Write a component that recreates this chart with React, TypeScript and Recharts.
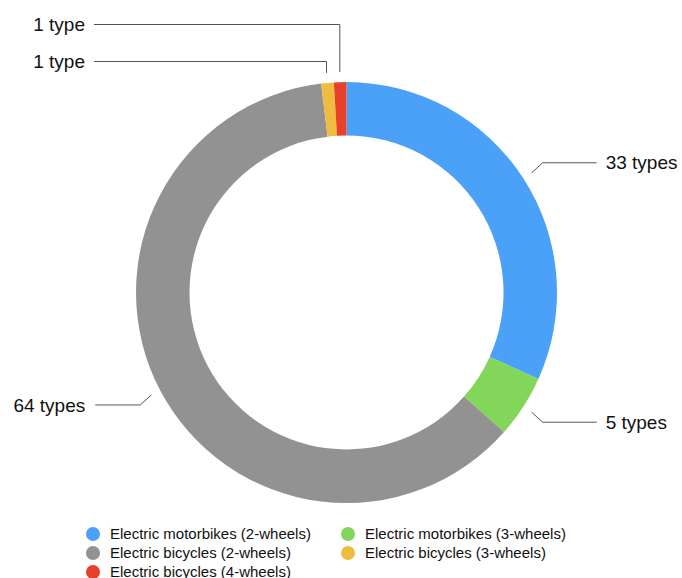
import React from 'react'
import { PieChart, Pie, Cell } from 'recharts'

const categories = [
  'Electric motorbikes (2-wheels)',
  'Electric motorbikes (3-wheels)',
  'Electric bicycles (2-wheels)',
  'Electric bicycles (3-wheels)',
  'Electric bicycles (4-wheels)',
]
const typeCounts = [33, 5, 64, 1, 1]
const sliceColors = ['#4AA1F7', '#82D65A', '#929292', '#F0BC40', '#E8412B']

const data = categories.map((name, i) => ({ name, value: typeCounts[i] }))

const FONT = '"Liberation Sans", Arial, Helvetica, sans-serif'
const LINE = '#555555'

// tiny slices at the top get callouts stacked above the ring
const stackedY: Record<number, number> = { 3: 61.5, 4: 24.5 }

const renderCallout = (props: any) => {
  const { cx, cy, midAngle, outerRadius, index, value } = props
  const rad = Math.PI / 180
  const cos = Math.cos(-midAngle * rad)
  const sin = Math.sin(-midAngle * rad)
  const sx = cx + (outerRadius + 10) * cos
  const sy = cy + (outerRadius + 10) * sin
  const text = value === 1 ? '1 type' : `${value} types`

  if (index in stackedY) {
    const ly = stackedY[index]
    return (
      <g key={`lbl-${index}`}>
        <polyline
          points={`${sx},${sy} ${sx},${ly} 94,${ly}`}
          fill="none"
          stroke={LINE}
          strokeWidth={1}
        />
        <text x={85} y={ly} dy="0.35em" textAnchor="end" fontSize={19} fill="#111" fontFamily={FONT}>
          {text}
        </text>
      </g>
    )
  }

  const right = cos >= 0
  const ex = sx + (right ? 11 : -11)
  const ey = sy + (sin >= 0 ? 10 : -10)
  const hx = ex + (right ? 54 : -45)
  return (
    <g key={`lbl-${index}`}>
      <polyline points={`${sx},${sy} ${ex},${ey} ${hx},${ey}`} fill="none" stroke={LINE} strokeWidth={1} />
      <text
        x={hx + (right ? 9 : -10)}
        y={ey}
        dy="0.35em"
        textAnchor={right ? 'start' : 'end'}
        fontSize={19}
        fill="#111"
        fontFamily={FONT}
      >
        {text}
      </text>
    </g>
  )
}

const LegendBlock = () => (
  <div
    style={{
      position: 'absolute',
      left: 86,
      top: 524,
      display: 'grid',
      gridTemplateColumns: '255px 260px',
      fontFamily: FONT,
      fontSize: 15,
      lineHeight: '19px',
      color: '#111',
    }}
  >
    {categories.map((name, i) => (
      <div key={name} style={{ display: 'flex', alignItems: 'center', whiteSpace: 'nowrap' }}>
        <span
          style={{
            width: 14,
            height: 14,
            borderRadius: '50%',
            background: sliceColors[i],
            marginRight: 10,
            flexShrink: 0,
          }}
        />
        {name}
      </div>
    ))}
  </div>
)

export default function App() {
  if (typeof document !== 'undefined') document.body.style.margin = '0'
  return (
    <div style={{ position: 'relative', width: 682, height: 578, background: '#fff', overflow: 'hidden' }}>
      <PieChart width={682} height={578} margin={{ top: 0, right: 0, bottom: 0, left: 0 }}>
        <Pie
          data={data}
          dataKey="value"
          nameKey="name"
          cx={346.5}
          cy={292.5}
          innerRadius={157}
          outerRadius={210.5}
          startAngle={90}
          endAngle={-270}
          stroke="none"
          label={renderCallout}
          labelLine={false}
          isAnimationActive={false}
        >
          {data.map((d, i) => (
            <Cell key={d.name} fill={sliceColors[i]} />
          ))}
        </Pie>
      </PieChart>
      <LegendBlock />
    </div>
  )
}
